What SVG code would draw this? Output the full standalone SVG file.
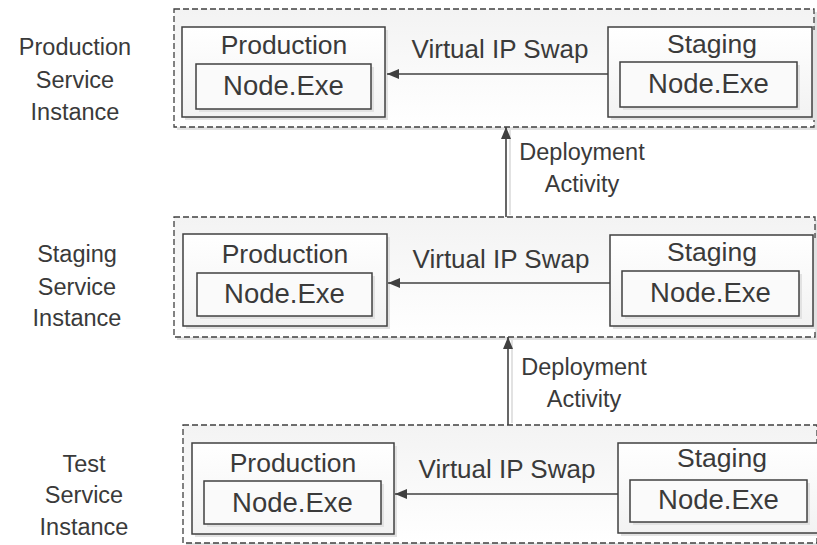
<svg xmlns="http://www.w3.org/2000/svg" width="817" height="545" viewBox="0 0 817 545">
<style>
text{font-family:"Liberation Sans",Arial,sans-serif;fill:#3a3a3a;text-anchor:middle}
.lbl{font-size:23.5px}
.ttl{font-size:26.5px}
.node{font-size:27.5px}
.swap{font-size:26px}
.cont{fill:url(#cg);stroke:#404040;stroke-width:1.3;stroke-dasharray:6 3}
.box{fill:url(#bg);stroke:#404040;stroke-width:1.5}
.inner{fill:#fafafa;stroke:#404040;stroke-width:1.5}
.sh{fill:#e2e2e2}
.conn{stroke:#404040;stroke-width:1.6;fill:none}
.shline{stroke:#d8d8d8;stroke-width:1.5}
</style>
<defs>
<linearGradient id="cg" x1="0" y1="0" x2="0" y2="1">
<stop offset="0" stop-color="#f3f3f3"/>
<stop offset="1" stop-color="#ffffff"/>
</linearGradient>
<linearGradient id="bg" x1="0" y1="0" x2="0" y2="1">
<stop offset="0" stop-color="#ffffff"/>
<stop offset="1" stop-color="#f2f2f2"/>
</linearGradient>
<marker id="ah" viewBox="0 0 12 10" refX="12" refY="5" markerWidth="12" markerHeight="10" markerUnits="userSpaceOnUse" orient="auto">
<path d="M0,0 L12,5 L0,10 z" fill="#404040"/>
</marker>
</defs>

<g id="labels">
<text class="lbl" x="75" y="55">Production</text>
<text class="lbl" x="75" y="88">Service</text>
<text class="lbl" x="75" y="120">Instance</text>
<text class="lbl" x="77" y="262">Staging</text>
<text class="lbl" x="77" y="295">Service</text>
<text class="lbl" x="77" y="326">Instance</text>
<text class="lbl" x="84" y="472">Test</text>
<text class="lbl" x="84" y="503">Service</text>
<text class="lbl" x="84" y="535">Instance</text>
</g>

<g id="prod-instance">
<rect class="sh" x="177" y="12" width="640" height="118"/>
<rect class="cont" x="174" y="9" width="640" height="118"/>
<g id="prod-production">
<rect class="sh" x="185" y="30" width="203" height="90"/>
<rect class="box" x="182" y="27" width="203" height="90"/>
<text class="ttl" x="284" y="54">Production</text>
<rect class="sh" x="199" y="67" width="175" height="45"/>
<rect class="inner" x="196" y="64" width="175" height="45"/>
<text class="node" x="283.5" y="95">Node.Exe</text>
</g>
<g id="prod-staging">
<rect class="sh" x="611" y="30" width="204" height="90"/>
<rect class="box" x="608" y="27" width="204" height="90"/>
<text class="ttl" x="712" y="53">Staging</text>
<rect class="sh" x="623" y="65" width="177" height="45"/>
<rect class="inner" x="620" y="62" width="177" height="45"/>
<text class="node" x="708.5" y="93">Node.Exe</text>
</g>
</g>

<g id="staging-instance">
<rect class="sh" x="177" y="220" width="640" height="120"/>
<rect class="cont" x="174" y="217" width="641" height="120"/>
<g id="stag-production">
<rect class="sh" x="186" y="237" width="204" height="92"/>
<rect class="box" x="183" y="234" width="204" height="92"/>
<text class="ttl" x="285" y="263">Production</text>
<rect class="sh" x="200" y="276" width="175" height="43"/>
<rect class="inner" x="197" y="273" width="175" height="43"/>
<text class="node" x="284.5" y="303">Node.Exe</text>
</g>
<g id="stag-staging">
<rect class="sh" x="613" y="238" width="203" height="91"/>
<rect class="box" x="610" y="235" width="203" height="91"/>
<text class="ttl" x="712" y="261">Staging</text>
<rect class="sh" x="625" y="274" width="177" height="45"/>
<rect class="inner" x="622" y="271" width="177" height="45"/>
<text class="node" x="710.5" y="302">Node.Exe</text>
</g>
</g>

<g id="test-instance">
<rect class="sh" x="186" y="428" width="634" height="118"/>
<rect class="cont" x="183" y="425" width="634" height="118"/>
<g id="test-production">
<rect class="sh" x="195" y="446" width="202" height="91"/>
<rect class="box" x="192" y="443" width="202" height="91"/>
<text class="ttl" x="293" y="472">Production</text>
<rect class="sh" x="207" y="484" width="177" height="43"/>
<rect class="inner" x="204" y="481" width="177" height="43"/>
<text class="node" x="292.5" y="512">Node.Exe</text>
</g>
<g id="test-staging">
<rect class="sh" x="621" y="446" width="200" height="90"/>
<rect class="box" x="618" y="443" width="200" height="90"/>
<text class="ttl" x="722" y="467">Staging</text>
<rect class="sh" x="633" y="483" width="177" height="42"/>
<rect class="inner" x="630" y="480" width="177" height="42"/>
<text class="node" x="718.5" y="509">Node.Exe</text>
</g>
</g>

<g id="connectors">
<line class="shline" x1="510" y1="215" x2="510" y2="130"/>
<line class="shline" x1="512" y1="423" x2="512" y2="340"/>
<line class="conn" x1="608" y1="74" x2="387" y2="74" marker-end="url(#ah)"/>
<line class="conn" x1="610" y1="283" x2="388" y2="283" marker-end="url(#ah)"/>
<line class="conn" x1="618" y1="494" x2="395" y2="494" marker-end="url(#ah)"/>
<line class="conn" x1="506" y1="217" x2="506" y2="127" marker-end="url(#ah)"/>
<line class="conn" x1="508" y1="425" x2="508" y2="337" marker-end="url(#ah)"/>
<text class="swap" x="500" y="58">Virtual IP Swap</text>
<text class="swap" x="501" y="268">Virtual IP Swap</text>
<text class="swap" x="507" y="478">Virtual IP Swap</text>
<text class="lbl" x="582" y="160">Deployment</text>
<text class="lbl" x="582" y="192">Activity</text>
<text class="lbl" x="584" y="375">Deployment</text>
<text class="lbl" x="584" y="407">Activity</text>
</g>
</svg>
